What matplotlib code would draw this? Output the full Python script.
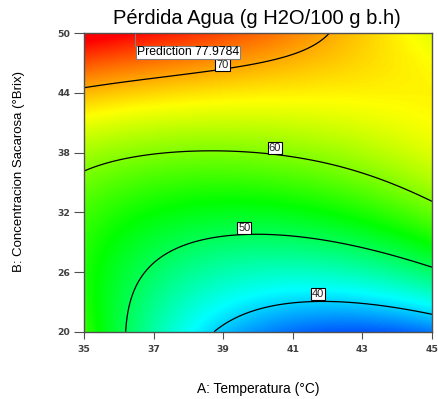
import numpy as np
import matplotlib
matplotlib.use("Agg")
import matplotlib.pyplot as plt
from matplotlib.colors import LinearSegmentedColormap

plt.rcParams['font.family'] = ['Liberation Sans', 'DejaVu Sans']

title = "Pérdida Agua (g H2O/100 g b.h)"
x_label = "A: Temperatura (°C)"
y_label = "B: Concentracion Sacarosa (°Brix)"
x_ticks = [35, 37, 39, 41, 43, 45]
y_ticks = [20, 26, 32, 38, 44, 50]
levels = [40, 50, 60, 70]

# Traces of each response level: temperature (°C) and sucrose (°Brix)
temp_40 = [38.81, 39.19, 40.05, 40.86, 41.82, 42.77, 43.73, 44.97]
brix_40 = [20.04, 21.04, 22.39, 22.95, 23.12, 22.89, 22.49, 21.79]
temp_50 = [36.22, 36.32, 36.61, 37.27, 38.23, 39.19, 40.05, 40.86, 41.82, 42.77, 43.73, 44.97]
brix_50 = [20.04, 23.22, 25.56, 27.74, 29.08, 29.58, 29.82, 29.68, 29.25, 28.57, 27.74, 26.51]
temp_60 = [35.02, 35.84, 36.80, 37.75, 38.71, 40.05, 40.86, 41.82, 42.77, 43.58, 44.30, 44.97]
brix_60 = [36.18, 37.11, 37.71, 37.95, 37.98, 37.91, 37.61, 37.11, 36.28, 35.27, 34.27, 33.19]
temp_70 = [35.02, 35.84, 36.80, 37.75, 38.71, 40.05, 40.48, 41.05, 41.62, 41.91, 42.08]
brix_70 = [44.54, 44.98, 45.48, 45.98, 46.45, 46.99, 47.32, 47.99, 48.83, 49.50, 50.00]

# Flagged prediction
pred_temp = 36.46
pred_brix = 50.0
pred_value = 77.9784


def basis(A, B):
    a = (np.asarray(A, float) - 40.0) / 5.0
    b = (np.asarray(B, float) - 35.0) / 15.0
    return np.stack([np.ones_like(a), a, b, a * a, a * b, b * b,
                     a ** 3, a * a * b, a * b * b, b ** 3], axis=-1)


# Cubic response surface through the level traces
A_pts = np.concatenate([temp_40, temp_50, temp_60, temp_70, [pred_temp]])
B_pts = np.concatenate([brix_40, brix_50, brix_60, brix_70, [pred_brix]])
Y_pts = np.concatenate([np.full(len(temp_40), 40.0), np.full(len(temp_50), 50.0),
                        np.full(len(temp_60), 60.0), np.full(len(temp_70), 70.0),
                        [pred_value]])
coef, *_ = np.linalg.lstsq(basis(A_pts, B_pts), Y_pts, rcond=None)

A_grid = np.linspace(35, 45, 400)
B_grid = np.linspace(20, 50, 400)
AA, BB = np.meshgrid(A_grid, B_grid)
Z = basis(AA, BB) @ coef

cmap = LinearSegmentedColormap.from_list(
    "de", ["#0000ff", "#00ffff", "#00ff00", "#ffff00", "#ff0000"])

fig = plt.figure(figsize=(4.39, 3.99), dpi=100)
ax = fig.add_axes([84 / 439, 1 - 331.7 / 399, (432 - 84) / 439, (331.7 - 33.3) / 399])

ax.imshow(Z, origin="lower", extent=[35, 45, 20, 50], aspect="auto",
          cmap=cmap, vmin=30, vmax=78, interpolation="bilinear")
ax.contour(AA, BB, Z, levels=levels, colors="black", linewidths=0.9)

label_pos = {70: (38.98, 46.78), 60: (40.48, 38.45), 50: (39.61, 30.45), 40: (41.72, 23.8)}
for lev in levels:
    x, y = label_pos[lev]
    ax.text(x, y, f"{lev}", ha="center", va="center", fontsize=8, color="#222222",
            bbox=dict(boxstyle="square,pad=0.08", fc="white", ec="black", lw=0.8))

# Prediction flag
ax.plot([pred_temp, pred_temp], [pred_brix, 48.76], color="#808080", lw=0.8)
ax.text(pred_temp + 0.06, 48.08, f"Prediction {pred_value:.4f}", ha="left", va="center",
        fontsize=8.8, color="black",
        bbox=dict(boxstyle="square,pad=0.06", fc="white", ec="#808080", lw=0.8))

ax.set_xlim(35, 45)
ax.set_ylim(20, 50)
ax.set_xticks(x_ticks)
ax.set_yticks(y_ticks)
tick_font = dict(family="DejaVu Sans", size=6.7, weight="bold")
ax.set_xticklabels([str(t) for t in x_ticks], fontdict=tick_font, color="#404040")
ax.set_yticklabels([str(t) for t in y_ticks], fontdict=tick_font, color="#404040")
ax.tick_params(axis="x", length=5, width=0.8, color="#505050", pad=4.5)
ax.tick_params(axis="y", length=7.2, width=0.8, color="#505050", pad=2.5)
for s in ax.spines.values():
    s.set_color("#505050")
    s.set_linewidth(1.0)

fig.text(257 / 439, 1 - 18 / 399, title, ha="center", va="center", fontsize=14.5)
fig.text(258 / 439, 1 - 389 / 399, x_label, ha="center", va="center", fontsize=9.9)
fig.text(19.5 / 439, 1 - 172 / 399, y_label, ha="center", va="center", fontsize=9.5, rotation=90)

fig.savefig("out.png", dpi=100)
